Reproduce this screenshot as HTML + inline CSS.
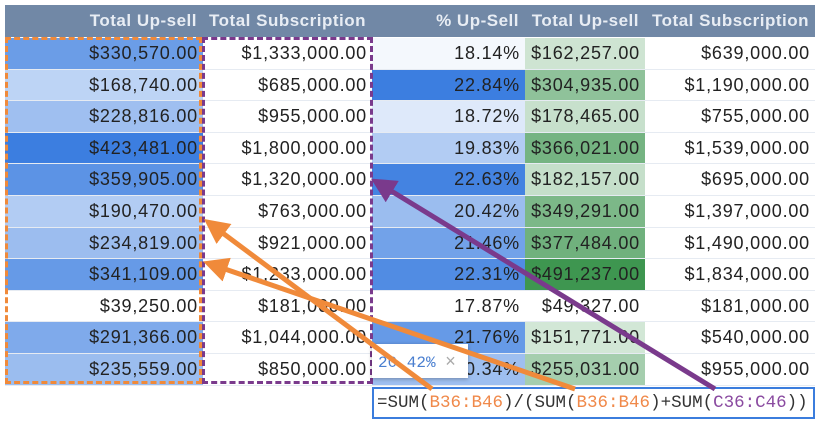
<!DOCTYPE html>
<html><head><meta charset="utf-8"><style>
body{margin:0;width:824px;height:425px;overflow:hidden;background:#fff;font-family:"Liberation Sans",Arial,sans-serif;position:relative}
.h{position:absolute;top:5px;height:32px;background:#7188a6;color:#e8edf4;font-weight:bold;font-size:17px;letter-spacing:0.5px;line-height:32px;text-align:right;box-sizing:border-box;padding-right:6px;white-space:nowrap}
.c{position:absolute;height:31.6px;line-height:31.6px;font-size:18px;letter-spacing:0.8px;color:#222;text-align:right;box-sizing:border-box;padding-right:5px;border-bottom:1px solid #e6ebf2;white-space:nowrap}
</style></head><body>
<div id="grid"></div>
<div style="position:absolute;left:5px;top:37px;width:197px;height:347px;border:3px dashed #f08a3a;box-sizing:border-box"></div>
<div style="position:absolute;left:202px;top:37px;width:171px;height:347px;border:3px dashed #7a3a8c;box-sizing:border-box"></div>
<div style="position:absolute;left:372px;top:344px;width:96px;height:34px;background:#fff;box-shadow:0 1px 4px rgba(0,0,0,.3);font-family:'Liberation Mono',monospace;font-size:16px;line-height:34px;color:#4a7fd0;padding-left:6px;box-sizing:border-box">20.42% <span style="color:#aaa;font-family:'Liberation Sans';font-size:18px">×</span></div>
<div style="position:absolute;left:372px;top:387px;width:443px;height:32px;background:#fff;border:2px solid #3b7ddd;box-sizing:border-box;font-family:'Liberation Mono',monospace;font-size:17.5px;line-height:28px;padding-left:3px;color:#333;white-space:nowrap">=SUM(<span style="color:#f0894a">B36:B46</span>)/(SUM(<span style="color:#f0894a">B36:B46</span>)+SUM(<span style="color:#8a4aa0">C36:C46</span>))</div>
<svg style="position:absolute;left:0;top:0" width="824" height="425">
<defs>
<marker id="ao" markerWidth="5" markerHeight="5" refX="1" refY="2.5" orient="auto"><path d="M0,0L5,2.5L0,5z" fill="#f08a3a"/></marker>
<marker id="ap" markerWidth="5" markerHeight="5" refX="1" refY="2.5" orient="auto"><path d="M0,0L5,2.5L0,5z" fill="#7a3a8c"/></marker>
</defs>
<line x1="432" y1="389" x2="220" y2="231" stroke="#f08a3a" stroke-width="5" marker-end="url(#ao)"/>
<line x1="575" y1="389" x2="222" y2="268" stroke="#f08a3a" stroke-width="5" marker-end="url(#ao)"/>
<line x1="715" y1="389" x2="388" y2="189" stroke="#7a3a8c" stroke-width="5" marker-end="url(#ap)"/>
</svg>
<script>
const headers=["Total Up-sell","Total Subscription","% Up-Sell","Total Up-sell","Total Subscription"];
const upsell=[330570,168740,228816,423481,359905,190470,234819,341109,39250,291366,235559];
const subs=[1333000,685000,955000,1800000,1320000,763000,921000,1233000,181000,1044000,850000];
const pct=[18.14,22.84,18.72,19.83,22.63,20.42,21.46,22.31,17.87,21.76,20.34];
const upsell2=[162257,304935,178465,366021,182157,349291,377484,491237,49327,151771,255031];
const subs2=[639000,1190000,755000,1539000,695000,1397000,1490000,1834000,181000,540000,955000];
const colX=[5,203,372,525,645,815];
const g=document.getElementById('grid');
function mix(v,a,b,c){const t=(v-a)/(b-a);const w=[255,255,255];return 'rgb('+w.map((x,i)=>Math.round(x+(c[i]-x)*t)).join(',')+')';}
const money=v=>'$'+v.toLocaleString('en-US',{minimumFractionDigits:2});
headers.forEach((h,i)=>{const d=document.createElement('div');d.className='h';


d.style.left=colX[i]+'px';d.style.width=(colX[i+1]-colX[i])+'px';d.textContent=h;g.appendChild(d);});
const cols=[[upsell,money,[60,126,224]],[subs,money,null],[pct,v=>v.toFixed(2)+'%',[60,126,224]],[upsell2,money,[62,150,80]],[subs2,money,null]];
cols.forEach((c,ci)=>{const arr=c[0],mn=Math.min(...arr),mx=Math.max(...arr);
arr.forEach((v,r)=>{const d=document.createElement('div');d.className='c';


d.style.left=colX[ci]+'px';d.style.width=(colX[ci+1]-colX[ci])+'px';d.style.top=(38+r*31.6)+'px';
d.style.background=c[2]?mix(v,mn,mx,c[2]):'#fff';d.textContent=c[1](v);g.appendChild(d);});});
</script>
</body></html>
